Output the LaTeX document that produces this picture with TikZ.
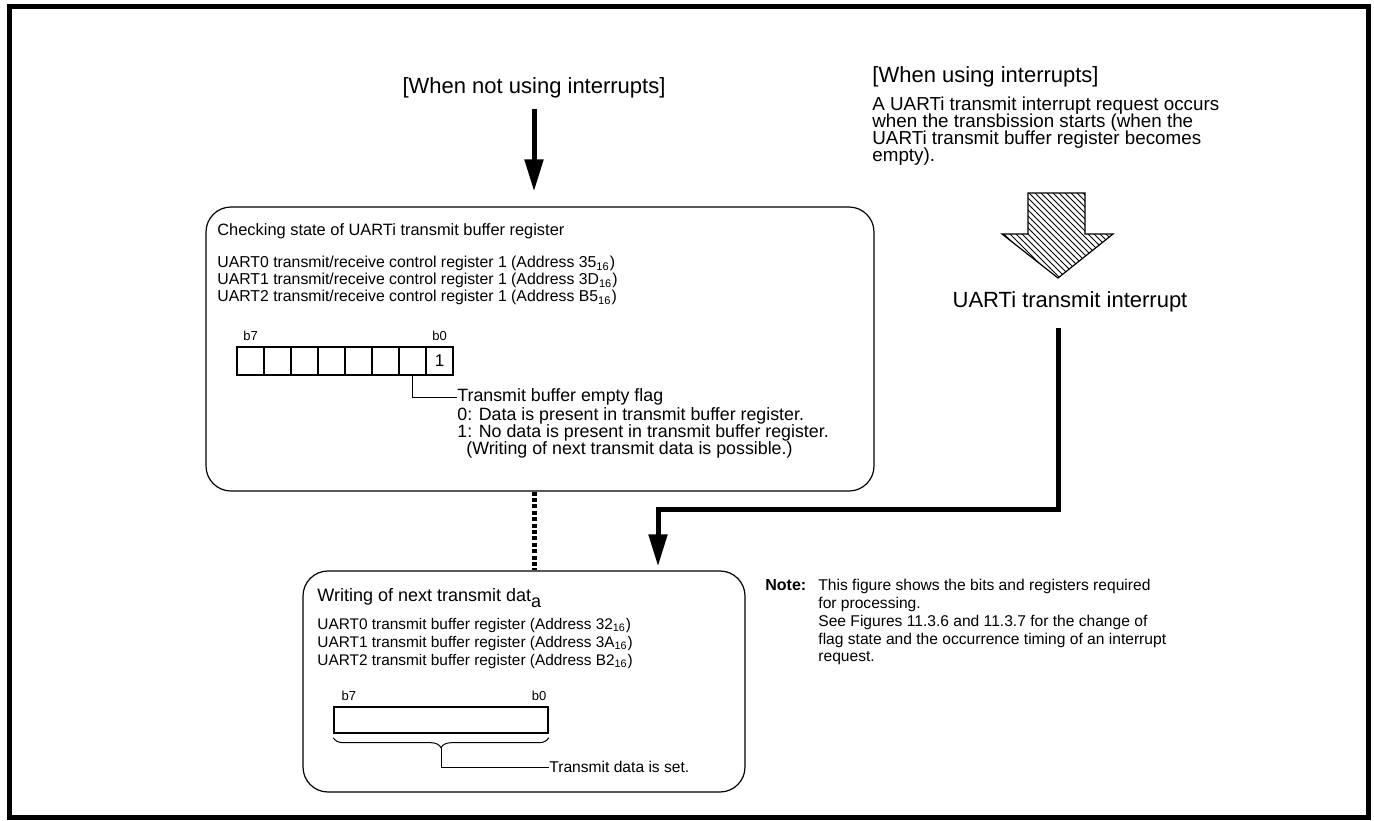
\documentclass[tikz,border=0pt]{standalone}
\usepackage{fontspec}
\setmainfont{Liberation Sans}
\usetikzlibrary{arrows.meta,positioning,patterns,decorations.pathreplacing}
\lineskiplimit=-\maxdimen

\begin{document}
\begin{tikzpicture}[x=0.5pt, y=-0.5pt,
  every node/.style={inner sep=0pt, font=\fontsize{7.9}{8.5}\selectfont},
  hdr/.style={font=\fontsize{11}{13}\selectfont},
  txt/.style={align=left, font=\fontsize{7.9}{8.5}\selectfont},
  bit/.style={font=\fontsize{6.5}{7}\selectfont},
  panel/.style={draw, rounded corners=12.5pt, line width=0.6pt},
  cell/.style={draw, line width=0.7pt, minimum width=13.5pt, minimum height=14pt},
  thickarr/.style={-{Triangle[length=16pt,width=9pt]}, line width=2.5pt},
  dotline/.style={line width=2.5pt, dash pattern=on 2pt off 1.2pt},
  lead/.style={line width=0.5pt},
  brc/.style={decorate, decoration={brace, mirror, amplitude=5pt}, line width=0.5pt},
]
  \useasboundingbox (0,0) rectangle (1374,820);
  \draw[line width=2.5pt] (9.5,6.5) rectangle (1368.5,817.5);

  % ---------- Left: polling ----------
  \node[hdr] (nohdr) at (534,88) {[When not using interrupts]};
  \node[panel, minimum width=334pt, minimum height=142pt] (chkbox) at (540,349) {};
  \draw[thickarr, shorten <=5pt, shorten >=7.5pt] (nohdr.south) -- (chkbox.north -| nohdr);

  \node[anchor=west, font=\fontsize{8.2}{9}\selectfont] (chkttl) at (217,231)
    {Checking state of UARTi transmit buffer register};
  \node[txt, anchor=north west] (chkregs) at (217,256)
    {UART0 transmit/receive control register 1 (Address 35\textsubscript{16})\\
     UART1 transmit/receive control register 1 (Address 3D\textsubscript{16})\\
     UART2 transmit/receive control register 1 (Address B5\textsubscript{16})};
  \foreach \i in {0,...,7}
    \node[cell] (c\i) at (250.5+27*\i,361) {};
  \node[font=\fontsize{8.5}{9}\selectfont] at (c7) {1};
  \node[bit, above=2.5pt of c0] (b7a) {b7};
  \node[bit, above=2.5pt of c7] (b0a) {b0};
  \node[anchor=west, font=\fontsize{8.9}{8.5}\selectfont] (flaghd) at (457,397)
    {Transmit buffer empty flag};
  \node[txt, anchor=north west, font=\fontsize{8.9}{8.5}\selectfont] (flagdesc) at (457,407)
    {0: Data is present in transmit buffer register.\\
     1: No data is present in transmit buffer register.\\
     \hspace{4.5pt}(Writing of next transmit data is possible.)};
  \draw[lead] (c6.south) |- (flaghd.west);

  % ---------- Bottom: write ----------
  \node[panel, minimum width=221pt, minimum height=110.5pt] (wrtbox) at (524,681.5) {};
  \draw[dotline] (chkbox.south -| nohdr) -- (wrtbox.north -| nohdr);

  \node[anchor=west, font=\fontsize{9}{9}\selectfont] (wrtttl) at (317,598)
    {Writing of next transmit dat\raisebox{-3pt}{a}};
  \node[txt, anchor=north west, font=\fontsize{7.7}{9}\selectfont] (wrtregs) at (317,618)
    {UART0 transmit buffer register (Address 32\textsubscript{16})\\
     UART1 transmit buffer register (Address 3A\textsubscript{16})\\
     UART2 transmit buffer register (Address B2\textsubscript{16})};
  \node[draw, line width=0.7pt, minimum width=107pt, minimum height=13pt] (reg2) at (441,720) {};
  \node[bit, anchor=south west] (b7b) at ([xshift=4pt, yshift=2.5pt]reg2.north west) {b7};
  \node[bit, anchor=south east] (b0b) at ([xshift=-1pt, yshift=2.5pt]reg2.north east) {b0};
  \draw[brc] ([yshift=-2pt]reg2.south west) -- ([yshift=-2pt]reg2.south east)
    coordinate[midway, yshift=-5pt] (brtip);
  \node[anchor=west, font=\fontsize{7.8}{9}\selectfont] (setlbl) at (549,767) {Transmit data is set.};
  \draw[lead] (brtip) |- (setlbl.west);

  % ---------- Right: interrupt ----------
  \node[hdr, anchor=west] (yeshdr) at (872,77) {[When using interrupts]};
  \node[txt, anchor=north west, font=\fontsize{9.4}{8.5}\selectfont] (yesdesc) at (872,96)
    {A UARTi transmit interrupt request occurs\\
     when the transbission starts (when the\\
     UARTi transmit buffer register becomes\\
     empty).};
  \draw[pattern=north west lines, line width=0.6pt]
    (1028,193) -- (1085,193) -- (1085,234) -- (1113,234) -- (1058,278)
    coordinate (htip) -- (1002,234) -- (1028,234) -- cycle;
  \node[hdr] (intlbl) at (1070,302) {UARTi transmit interrupt};
  \coordinate (jn) at (658,509);
  \draw[thickarr, shorten <=7.5pt, shorten >=2pt] (intlbl.south -| htip) |- (jn) -- (jn |- wrtbox.north);

  % note
  \node[anchor=west, font=\bfseries\fontsize{8}{9}\selectfont] (notelbl) at (765,585) {Note:};
  \node[txt, anchor=north west, font=\fontsize{7.8}{8.9}\selectfont] (notetxt) at (818,579)
    {This figure shows the bits and registers required\\
     for processing.\\
     See Figures 11.3.6 and 11.3.7 for the change of\\
     flag state and the occurrence timing of an interrupt\\
     request.};
\end{tikzpicture}
\end{document}
